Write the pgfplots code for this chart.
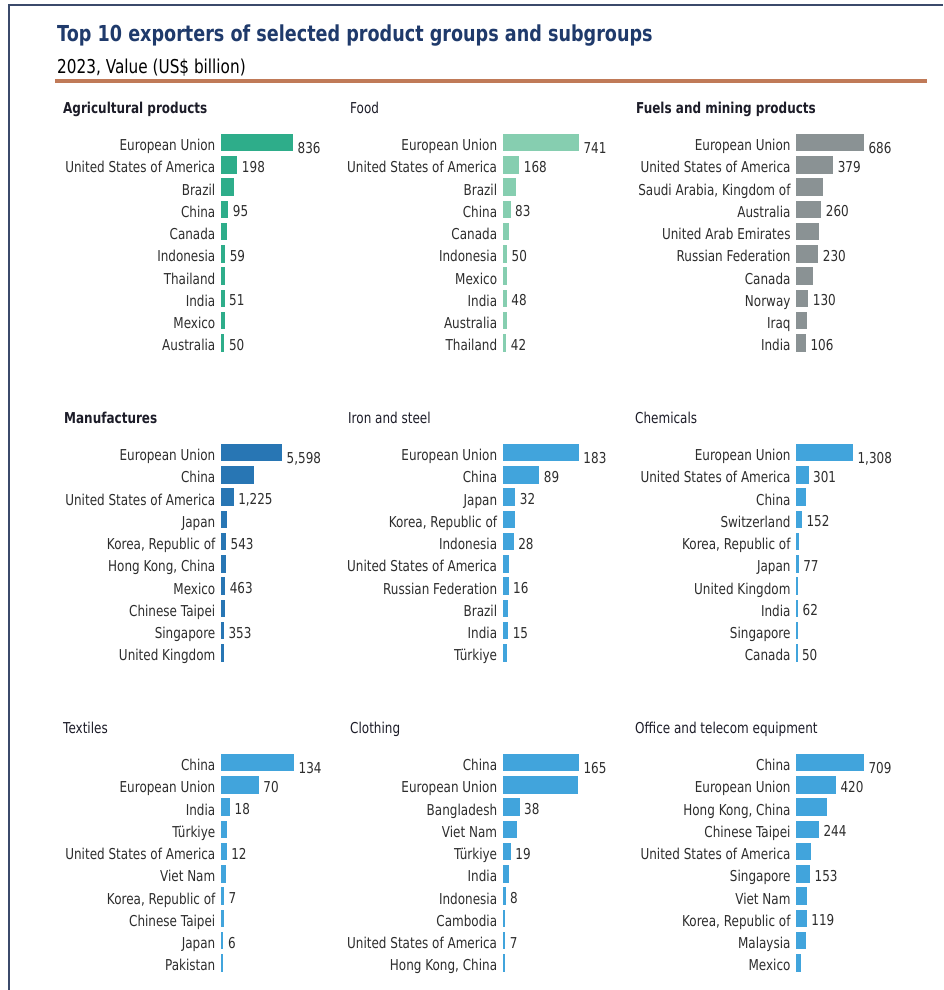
\documentclass[border=0pt]{standalone}
\usepackage{fontspec}
\setmainfont{DejaVu Sans}[FakeStretch=0.8]
\usepackage{pgfplots}
\pgfplotsset{compat=1.18}
\definecolor{agri}{RGB}{46,173,138}
\definecolor{food}{RGB}{134,206,176}
\definecolor{fuel}{RGB}{138,146,148}
\definecolor{manu}{RGB}{40,118,180}
\definecolor{lblue}{RGB}{65,164,220}
\definecolor{titleblue}{RGB}{31,58,107}
\definecolor{rulec}{RGB}{192,122,88}
\definecolor{framec}{RGB}{59,74,107}
\definecolor{txt}{RGB}{45,45,45}
\definecolor{ptitle}{RGB}{28,28,40}
\pgfplotsset{
  panel/.style={
    scale only axis, width=100pt, height=222.5pt,
    xmin=0, ymin=-0.5, ymax=9.5, y dir=reverse,
    hide x axis, axis line style={draw=none},
    ytick={0,...,9}, major tick length=0pt, ytick style={draw=none},
    yticklabel style={font=\fontsize{15}{16}\selectfont, text=txt, inner sep=0pt, anchor=base east, xshift=-5pt, yshift=-8pt},
    clip=false, anchor=north west,
  },
  bars/.style={xbar, bar width=18.5pt, fill=#1, draw=white, line width=0.8pt},
  vals/.style={draw=none, nodes near coords, point meta=explicit symbolic,
    nodes near coords style={anchor=base west, inner sep=0pt, xshift=4pt, yshift=-7.5pt,
      font=\fontsize{15}{16}\selectfont, text=txt}},
  first/.style={vals, nodes near coords style={yshift=-3.5pt}},
}
\newcommand{\ptitle}[3]{\node[anchor=base west, inner sep=0pt, text=ptitle, font=\fontsize{15}{16}\selectfont] at (#1pt,-#2pt) {#3};}
\begin{document}
\begin{tikzpicture}
\path[use as bounding box] (0,0) rectangle (943pt,-990pt);
\draw[framec, line width=2pt] (9pt,-990pt) -- (9pt,-5pt) -- (943pt,-5pt);
\draw[rulec, line width=3.5pt] (55pt,-81pt) -- (927pt,-81pt);
\node[anchor=base west, inner sep=0pt, text=titleblue, font=\fontsize{22}{24}\selectfont\bfseries] at (57pt,-42pt) {Top 10 exporters of selected product groups and subgroups};
\node[anchor=base west, inner sep=0pt, text=black, font=\fontsize{19.1}{20}\selectfont] at (57pt,-74pt) {2023, Value (US\$ billion)};

\ptitle{63}{113}{\bfseries Agricultural products}
\ptitle{350}{113}{Food}
\ptitle{636}{113}{\bfseries Fuels and mining products}
\ptitle{64}{423}{\bfseries Manufactures}
\ptitle{348}{423}{Iron and steel}
\ptitle{635}{423}{Chemicals}
\ptitle{63}{733}{Textiles}
\ptitle{350}{733}{Clothing}
\ptitle{635}{733}{Office and telecom equipment}

% Row 1
\begin{axis}[panel, at={(220.5pt,-131.4pt)}, xmax=1145,
  yticklabels={European Union,United States of America,Brazil,China,Canada,Indonesia,Thailand,India,Mexico,Australia}]
\addplot[bars=agri] coordinates {(836,0) (198,1) (155,2) (95,3) (80,4) (59,5) (55,6) (51,7) (51,8) (50,9)};
\addplot[first] coordinates {(836,0) [836]};
\addplot[vals] coordinates {(198,1) [198] (95,3) [95] (59,5) [59] (51,7) [51] (50,9) [50]};
\end{axis}
\begin{axis}[panel, at={(502.3pt,-131.4pt)}, xmax=962,
  yticklabels={European Union,United States of America,Brazil,China,Canada,Indonesia,Mexico,India,Australia,Thailand}]
\addplot[bars=food] coordinates {(741,0) (168,1) (135,2) (83,3) (64,4) (50,5) (49,6) (48,7) (45,8) (42,9)};
\addplot[first] coordinates {(741,0) [741]};
\addplot[vals] coordinates {(168,1) [168] (83,3) [83] (50,5) [50] (48,7) [48] (42,9) [42]};
\end{axis}
\begin{axis}[panel, at={(795.7pt,-131.4pt)}, xmax=998.5,
  yticklabels={European Union,United States of America,{Saudi Arabia, Kingdom of},Australia,United Arab Emirates,Russian Federation,Canada,Norway,Iraq,India}]
\addplot[bars=fuel] coordinates {(686,0) (379,1) (275,2) (260,3) (240,4) (230,5) (180,6) (130,7) (115,8) (106,9)};
\addplot[first] coordinates {(686,0) [686]};
\addplot[vals] coordinates {(379,1) [379] (260,3) [260] (230,5) [230] (130,7) [130] (106,9) [106]};
\end{axis}

% Row 2
\begin{axis}[panel, at={(220.5pt,-441.4pt)}, xmax=9029,
  yticklabels={European Union,China,United States of America,Japan,{Korea, Republic of},{Hong Kong, China},Mexico,Chinese Taipei,Singapore,United Kingdom}]
\addplot[bars=manu] coordinates {(5598,0) (3100,1) (1225,2) (600,3) (543,4) (510,5) (463,6) (420,7) (353,8) (340,9)};
\addplot[first] coordinates {(5598,0) [{5,598}]};
\addplot[vals] coordinates {(1225,2) [{1,225}] (543,4) [543] (463,6) [463] (353,8) [353]};
\end{axis}
\begin{axis}[panel, at={(502.3pt,-441.4pt)}, xmax=237.7,
  yticklabels={European Union,China,Japan,{Korea, Republic of},Indonesia,United States of America,Russian Federation,Brazil,India,Türkiye}]
\addplot[bars=lblue] coordinates {(183,0) (89,1) (32,2) (30,3) (28,4) (18,5) (16,6) (15.5,7) (15,8) (13,9)};
\addplot[first] coordinates {(183,0) [183]};
\addplot[vals] coordinates {(89,1) [89] (32,2) [32] (28,4) [28] (16,6) [16] (15,8) [15]};
\end{axis}
\begin{axis}[panel, at={(795.7pt,-441.4pt)}, xmax=2267,
  yticklabels={European Union,United States of America,China,Switzerland,{Korea, Republic of},Japan,United Kingdom,India,Singapore,Canada}]
\addplot[bars=lblue] coordinates {(1308,0) (301,1) (250,2) (152,3) (95,4) (77,5) (70,6) (62,7) (55,8) (50,9)};
\addplot[first] coordinates {(1308,0) [{1,308}]};
\addplot[vals] coordinates {(301,1) [301] (152,3) [152] (77,5) [77] (62,7) [62] (50,9) [50]};
\end{axis}

% Row 3
\begin{axis}[panel, at={(220.5pt,-751.4pt)}, xmax=181,
  yticklabels={China,European Union,India,Türkiye,United States of America,Viet Nam,{Korea, Republic of},Chinese Taipei,Japan,Pakistan}]
\addplot[bars=lblue] coordinates {(134,0) (70,1) (18,2) (13,3) (12,4) (11.5,5) (7,6) (6.8,7) (6,8) (5.5,9)};
\addplot[first] coordinates {(134,0) [134]};
\addplot[vals] coordinates {(70,1) [70] (18,2) [18] (12,4) [12] (7,6) [7] (6,8) [6]};
\end{axis}
\begin{axis}[panel, at={(502.3pt,-751.4pt)}, xmax=214.3,
  yticklabels={China,European Union,Bangladesh,Viet Nam,Türkiye,India,Indonesia,Cambodia,United States of America,{Hong Kong, China}}]
\addplot[bars=lblue] coordinates {(165,0) (164,1) (38,2) (33,3) (19,4) (16,5) (8,6) (7.5,7) (7,8) (6,9)};
\addplot[first] coordinates {(165,0) [165]};
\addplot[vals] coordinates {(38,2) [38] (19,4) [19] (8,6) [8] (7,8) [7]};
\end{axis}
\begin{axis}[panel, at={(795.7pt,-751.4pt)}, xmax=1032,
  yticklabels={China,European Union,{Hong Kong, China},Chinese Taipei,United States of America,Singapore,Viet Nam,{Korea, Republic of},Malaysia,Mexico}]
\addplot[bars=lblue] coordinates {(709,0) (420,1) (330,2) (244,3) (165,4) (153,5) (125,6) (119,7) (112,8) (60,9)};
\addplot[first] coordinates {(709,0) [709]};
\addplot[vals] coordinates {(420,1) [420] (244,3) [244] (153,5) [153] (119,7) [119]};
\end{axis}
\end{tikzpicture}
\end{document}
